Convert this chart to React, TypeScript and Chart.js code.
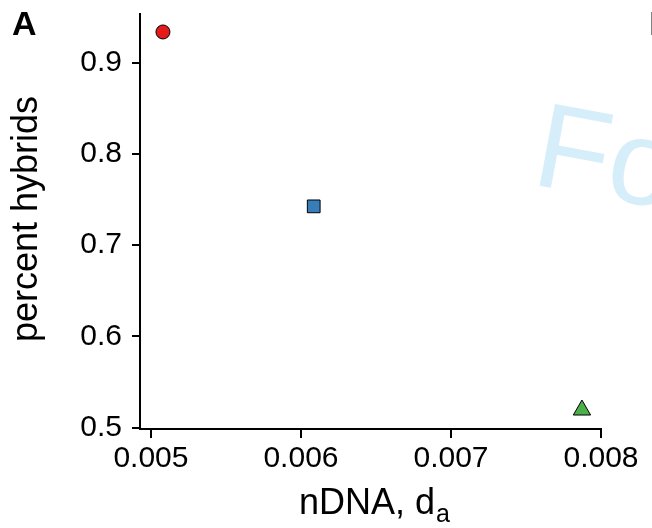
import { useEffect, useRef } from 'react';
import { Chart, registerables } from 'chart.js';

Chart.register(...registerables);

const FONT = '"Liberation Sans", Arial, Helvetica, sans-serif';

// Data
const seriesNames = ['population 1', 'population 2', 'population 3'];
const xValues = [0.00508, 0.006085, 0.007873];
const yValues = [0.9337, 0.7425, 0.5192];
const seriesColors = ['#e41a1c', '#377eb8', '#4daf4a'];
const seriesShapes = ['circle', 'rect', 'triangle'];
const seriesRadii = [7, 9, 10];

const xTicks = [0.005, 0.006, 0.007, 0.008];
const xTickLabels = ['0.005', '0.006', '0.007', '0.008'];
const yTicks = [0.5, 0.6, 0.7, 0.8, 0.9];
const yTickLabels = ['0.5', '0.6', '0.7', '0.8', '0.9'];

const xTitle = 'nDNA, d';
const xTitleSub = 'a';
const yTitle = 'percent hybrids';
const panelLabel = 'A';
const nextPanelLabel = 'B';
const watermark = 'Fo';

const decorPlugin = {
  id: 'decor',
  afterDraw(chart: any) {
    const ctx = chart.ctx as CanvasRenderingContext2D;
    ctx.save();
    // watermark
    ctx.save();
    ctx.translate(530, 184);
    ctx.rotate((10.5 * Math.PI) / 180);
    ctx.fillStyle = '#d5eefa';
    ctx.font = `121px ${FONT}`;
    ctx.textBaseline = 'alphabetic';
    ctx.textAlign = 'left';
    ctx.fillText(watermark, 0, 0);
    ctx.restore();

    // panel letters
    ctx.fillStyle = '#000';
    ctx.font = `bold 34px ${FONT}`;
    ctx.textBaseline = 'alphabetic';
    ctx.textAlign = 'left';
    ctx.fillText(panelLabel, 12, 35);
    ctx.fillStyle = '#555';
    ctx.fillText(nextPanelLabel, 649, 35);
    ctx.fillStyle = '#000';

    // x title with subscript
    ctx.font = `36px ${FONT}`;
    const w1 = ctx.measureText(xTitle).width;
    ctx.font = `25px ${FONT}`;
    const w2 = ctx.measureText(xTitleSub).width;
    const start = 374 - (w1 + w2) / 2;
    ctx.font = `36px ${FONT}`;
    ctx.fillText(xTitle, start, 514);
    ctx.font = `25px ${FONT}`;
    ctx.fillText(xTitleSub, start + w1 + 1, 522);

    // y title
    ctx.save();
    ctx.translate(37, 219);
    ctx.rotate(-Math.PI / 2);
    ctx.font = `36px ${FONT}`;
    ctx.textAlign = 'center';
    ctx.fillText(yTitle, 0, 0);
    ctx.restore();

    ctx.restore();
  },
};

export default function App() {
  const ref = useRef<HTMLCanvasElement>(null);
  useEffect(() => {
    document.body.style.margin = '0';
    const chart = new Chart(ref.current as HTMLCanvasElement, {
      type: 'scatter',
      data: {
        datasets: seriesNames.map((name, i) => ({
          label: name,
          data: [{ x: xValues[i], y: yValues[i] }],
          pointStyle: seriesShapes[i] as any,
          pointRadius: seriesRadii[i],
          pointHoverRadius: seriesRadii[i],
          backgroundColor: seriesColors[i],
          borderColor: '#000',
          borderWidth: 1,
        })),
      },
      options: {
        responsive: false,
        animation: false,
        devicePixelRatio: 1,
        layout: { padding: { left: 0, right: 51, top: 14, bottom: 0 } },
        plugins: { legend: { display: false }, tooltip: { enabled: false } },
        scales: {
          x: {
            type: 'linear',
            min: 0.004927,
            max: 0.008,
            afterBuildTicks: (s: any) => {
              s.ticks = xTicks.map((v) => ({ value: v }));
            },
            afterFit: (s: any) => {
              s.height = 99;
              s.paddingLeft = 0;
              s.paddingRight = 0;
            },
            border: { display: true, color: '#000', width: 2 },
            grid: { display: true, drawOnChartArea: false, drawTicks: true, tickLength: 9, color: '#000', lineWidth: 2 },
            ticks: {
              color: '#000',
              font: { family: FONT, size: 30 },
              padding: 3,
              maxRotation: 0,
              autoSkip: false,
              callback: (_v: any, i: number) => xTickLabels[i],
            },
          },
          y: {
            type: 'linear',
            min: 0.4984,
            max: 0.9534,
            afterBuildTicks: (s: any) => {
              s.ticks = yTicks.map((v) => ({ value: v }));
            },
            afterFit: (s: any) => {
              s.width = 140;
              s.paddingTop = 0;
              s.paddingBottom = 0;
            },
            border: { display: true, color: '#000', width: 2 },
            grid: { display: true, drawOnChartArea: false, drawTicks: true, tickLength: 8, color: '#000', lineWidth: 2 },
            ticks: {
              color: '#000',
              font: { family: FONT, size: 30 },
              padding: 10,
              autoSkip: false,
              callback: (_v: any, i: number) => yTickLabels[i],
            },
          },
        },
      },
      plugins: [decorPlugin],
    });
    return () => chart.destroy();
  }, []);
  return (
    <div style={{ position: 'absolute', left: 0, top: 0, width: 652, height: 528 }}>
      <canvas ref={ref} width={652} height={528} />
    </div>
  );
}
